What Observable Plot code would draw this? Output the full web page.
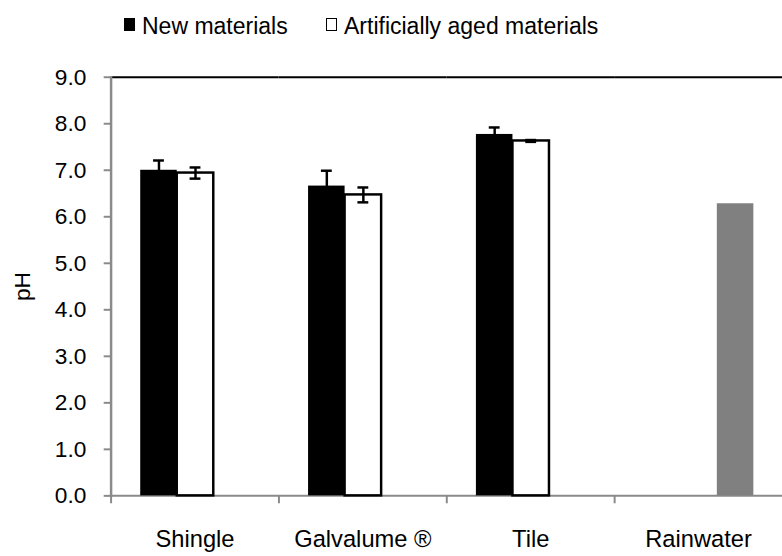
<!DOCTYPE html>
<html>
<head>
<meta charset="utf-8">
<script src="https://cdn.jsdelivr.net/npm/d3@7"></script>
<script src="https://cdn.jsdelivr.net/npm/@observablehq/plot@0.6"></script>
<style>
  body { margin: 0; background: #fff; font-family: "Liberation Sans", Arial, sans-serif; }
  #wrap { position: relative; width: 782px; height: 556px; overflow: hidden; background: #fff; }
  #legend { position: absolute; left: 0; top: 0; width: 782px; height: 56px; }
  .item { position: absolute; top: 0; height: 56px; }
  .sw { position: absolute; top: 18px; width: 11px; height: 13px; box-sizing: border-box; border: 1.5px solid #000; }
  .lab { position: absolute; top: 13px; left: 18px; font-size: 23px; line-height: 27px; white-space: nowrap; color: #000; }
  #chart { position: absolute; left: 0; top: 56px; }
</style>
</head>
<body>
<div id="wrap"><div id="legend"></div><div id="chart"></div></div>
<script>
// ---- data ----
const categories = ["Shingle", "Galvalume \u00AE", "Tile", "Rainwater"];
const seriesKeys = ["new", "aged", "rain"];
const seriesLabels = ["New materials", "Artificially aged materials", "Rainwater"];
const newValues  = [7.00, 6.66, 7.77, null];
const newErr     = [0.21, 0.33, 0.15, null];
const agedValues = [6.94, 6.47, 7.63, null];
const agedErr    = [0.12, 0.16, 0.02, null];
const rainValues = [null, null, null, 6.28];
const yTicks = [0, 1, 2, 3, 4, 5, 6, 7, 8, 9];

// ---- build tables ----
function rows(key, values, errs) {
  const out = [];
  categories.forEach((c, i) => {
    if (values[i] != null) out.push({category: c, series: key, value: values[i], err: errs ? errs[i] : null});
  });
  return out;
}
const newRows = rows("new", newValues, newErr);
const agedRows = rows("aged", agedValues, agedErr);
const rainRows = rows("rain", rainValues, null);
const errRows = newRows.concat(agedRows).filter(d => d.err != null);

// ---- legend (HTML, above the SVG) ----
const legendItems = [
  {label: seriesLabels[0], fill: "#000", left: 124},
  {label: seriesLabels[1], fill: "#fff", left: 326}
];
const legend = document.getElementById("legend");
legendItems.forEach(it => {
  const d = document.createElement("div");
  d.className = "item";
  d.style.left = it.left + "px";
  const s = document.createElement("div");
  s.className = "sw";
  s.style.background = it.fill;
  const t = document.createElement("div");
  t.className = "lab";
  t.textContent = it.label;
  d.appendChild(s); d.appendChild(t);
  legend.appendChild(d);
});

// ---- chart ----
const gray = "#8a8a8a";
const chart = Plot.plot({
  width: 792,
  height: 500,
  marginTop: 21,
  marginBottom: 55,
  marginLeft: 112,
  marginRight: 0,
  style: {fontFamily: "'Liberation Sans', Arial, sans-serif", fontSize: "22px", color: "#000", background: "#fff", overflow: "visible"},
  fx: {domain: categories, padding: 0},
  x: {domain: seriesKeys, paddingInner: 0, paddingOuter: 0.737, axis: null},
  y: {domain: [0, 9]},
  marks: [
    Plot.ruleY([0], {stroke: gray, strokeWidth: 2}),
    Plot.ruleY([9], {stroke: "#000", strokeWidth: 2}),
    Plot.frame({anchor: "left", facetAnchor: "left", stroke: gray, strokeWidth: 2.5}),
    Plot.barY(newRows, {fx: "category", x: "series", y: "value", fill: "#000", inset: 0}),
    Plot.barY(agedRows, {fx: "category", x: "series", y: "value", fill: "#fff", stroke: "#000", strokeWidth: 2.5, inset: 0}),
    Plot.barY(rainRows, {fx: "category", x: "series", y: "value", fill: "#808080", inset: 0}),
    Plot.ruleX(errRows, {fx: "category", x: "series", y1: d => d.value - d.err, y2: d => d.value + d.err, stroke: "#000", strokeWidth: 2.5}),
    Plot.tickY(errRows, {fx: "category", x: "series", y: d => d.value + d.err, stroke: "#000", strokeWidth: 2.5, inset: 13}),
    Plot.tickY(errRows, {fx: "category", x: "series", y: d => d.value - d.err, stroke: "#000", strokeWidth: 2.5, inset: 13}),
    Plot.axisY(yTicks, {
      tickFormat: d => d.toFixed(1), tickSize: 7, tickPadding: 18, fontSize: 23,
      stroke: gray, strokeWidth: 2, fill: "#000",
      label: "pH", labelAnchor: "center", labelOffset: 98, labelArrow: false
    }),
    Plot.axisFx({anchor: "bottom", tickSize: 0, tickPadding: 35, fontSize: 24, fill: "#000", label: null}),
    Plot.axisFx({anchor: "bottom", tickSize: 8, tickFormat: () => "", dx: -85, stroke: gray, strokeWidth: 2, label: null})
  ]
});
document.getElementById("chart").appendChild(chart);
</script>
</body>
</html>
